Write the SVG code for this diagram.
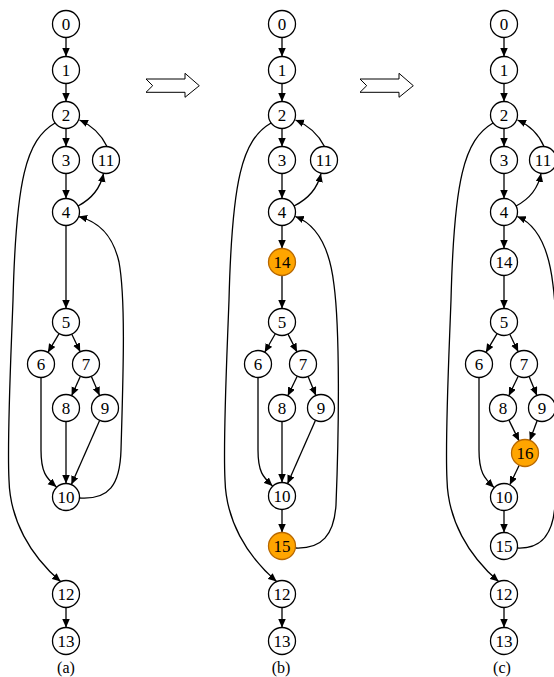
<svg xmlns="http://www.w3.org/2000/svg" width="554" height="677" viewBox="0 0 554 677">
  <style>
    .node circle { fill: #ffffff; stroke: #000000; stroke-width: 1.3; }
    .node.hl circle { fill: #ffa500; stroke: #b86800; }
    .node text { font-family: "Liberation Serif", "Times New Roman", serif; font-size: 17px; text-anchor: middle; fill: #000000; }
    .edges path { fill: none; stroke: #000000; stroke-width: 1.3; marker-end: url(#arrow); }
    .caption { font-family: "Liberation Serif", "Times New Roman", serif; font-size: 16px; text-anchor: middle; fill: #000000; }
    .step { fill: #ffffff; stroke: #000000; stroke-width: 1; stroke-linejoin: miter; }
  </style>
  <defs>
    <marker id="arrow" markerUnits="userSpaceOnUse" markerWidth="9" markerHeight="8" refX="8.5" refY="3.75" orient="auto">
      <path d="M0,0 L8.5,3.75 L0,7.5 z" fill="#000000"/>
    </marker>
  </defs>

  <rect x="0" y="0" width="554" height="677" fill="#ffffff"/>

  <!-- ===== Graph (a) ===== -->
  <g id="edges-a" class="edges">
    <path d="M66,37.5 L66,56.5"/>
    <path d="M66,83.5 L66,101.5"/>
    <path d="M66,128.5 L66,146.5"/>
    <path d="M66,173.5 L66,198.5"/>
    <path d="M78,206 Q99,195 103.5,173.5"/>
    <path d="M107,146.5 Q98,128 79.5,120"/>
    <path d="M55,123 C26,140 16,180 13,300 C10,380 7,440 9,480 C10,520 30,555 60.6,581.6"/>
    <path d="M66,225.5 L66,308.5"/>
    <path d="M59.1,333.6 L47.9,352.4"/>
    <path d="M71.8,334.2 L80.2,351.8"/>
    <path d="M80.4,376.3 L71.6,395.7"/>
    <path d="M91.4,376.4 L99.6,395.6"/>
    <path d="M41,377.5 L41,450 C41,472 46,478 56.5,487"/>
    <path d="M66,421.5 L66,483.5"/>
    <path d="M99.6,420.4 L71.4,484.6"/>
    <path d="M79.5,498 C109,500 120,485 121,450 C123,380 126,300 119,262 C113,236 100,222 78.7,216.6"/>
    <path d="M66,607.5 L66,627.5"/>
  </g>
  <g id="a-n0" class="node"><circle cx="66" cy="24" r="13.5"/><text x="66" y="29.8">0</text></g>
  <g id="a-n1" class="node"><circle cx="66" cy="70" r="13.5"/><text x="66" y="75.8">1</text></g>
  <g id="a-n2" class="node"><circle cx="66" cy="115" r="13.5"/><text x="66" y="120.8">2</text></g>
  <g id="a-n3" class="node"><circle cx="66" cy="160" r="13.5"/><text x="66" y="165.8">3</text></g>
  <g id="a-n11" class="node"><circle cx="106" cy="160" r="13.5"/><text x="106" y="165.8">11</text></g>
  <g id="a-n4" class="node"><circle cx="66" cy="212" r="13.5"/><text x="66" y="217.8">4</text></g>
  <g id="a-n5" class="node"><circle cx="66" cy="322" r="13.5"/><text x="66" y="327.8">5</text></g>
  <g id="a-n6" class="node"><circle cx="41" cy="364" r="13.5"/><text x="41" y="369.8">6</text></g>
  <g id="a-n7" class="node"><circle cx="86" cy="364" r="13.5"/><text x="86" y="369.8">7</text></g>
  <g id="a-n8" class="node"><circle cx="66" cy="408" r="13.5"/><text x="66" y="413.8">8</text></g>
  <g id="a-n9" class="node"><circle cx="105" cy="408" r="13.5"/><text x="105" y="413.8">9</text></g>
  <g id="a-n10" class="node"><circle cx="66" cy="497" r="13.5"/><text x="66" y="502.8">10</text></g>
  <g id="a-n12" class="node"><circle cx="66" cy="594" r="13.5"/><text x="66" y="599.8">12</text></g>
  <g id="a-n13" class="node"><circle cx="66" cy="641" r="13.5"/><text x="66" y="646.8">13</text></g>
  <text class="caption" x="66" y="673">(a)</text>

  <!-- step arrows -->
  <g id="step-ab"><polygon class="step" points="146,79 185,79 185,73.3 199.3,85.7 185,97.3 185,92.3 146,92.3 152.7,85.7"/></g>
  <g id="step-bc"><polygon class="step" points="360,79 399,79 399,73.3 413.3,85.7 399,97.3 399,92.3 360,92.3 366.7,85.7"/></g>

  <!-- ===== Graph (b) ===== -->
  <g id="edges-b" class="edges">
    <path d="M282,37.5 L282,56.5"/>
    <path d="M282,83.5 L282,101.5"/>
    <path d="M282,128.5 L282,146.5"/>
    <path d="M282,173.5 L282,198.5"/>
    <path d="M294,206 Q316,195 321,173.5"/>
    <path d="M324.5,146.5 Q315,128 295.5,120"/>
    <path d="M271,123 C242,140 232,180 229,300 C226,380 223,440 225,480 C226,520 246,555 276.6,581.6"/>
    <path d="M282,225.5 L282,248.5"/>
    <path d="M282,275.5 L282,308.5"/>
    <path d="M275.3,333.7 L264.7,352.3"/>
    <path d="M288,334.1 L297,351.9"/>
    <path d="M297.2,376.2 L287.8,395.8"/>
    <path d="M308.1,376.5 L315.9,395.5"/>
    <path d="M258,377.5 L258,450 C258,472 263,477 272.5,486"/>
    <path d="M282,421.5 L282,482.5"/>
    <path d="M315.5,420.3 L287.5,483.7"/>
    <path d="M282,509.5 L282,532.5"/>
    <path d="M295.5,548 C322,549 334,535 336,505 C339,430 340,330 334,285 C330,250 318,225 295.3,216.5"/>
    <path d="M282,607.5 L282,627.5"/>
  </g>
  <g id="b-n0" class="node"><circle cx="282" cy="24" r="13.5"/><text x="282" y="29.8">0</text></g>
  <g id="b-n1" class="node"><circle cx="282" cy="70" r="13.5"/><text x="282" y="75.8">1</text></g>
  <g id="b-n2" class="node"><circle cx="282" cy="115" r="13.5"/><text x="282" y="120.8">2</text></g>
  <g id="b-n3" class="node"><circle cx="282" cy="160" r="13.5"/><text x="282" y="165.8">3</text></g>
  <g id="b-n11" class="node"><circle cx="324" cy="160" r="13.5"/><text x="324" y="165.8">11</text></g>
  <g id="b-n4" class="node"><circle cx="282" cy="212" r="13.5"/><text x="282" y="217.8">4</text></g>
  <g id="b-n14" class="node hl"><circle cx="282" cy="262" r="13.5"/><text x="282" y="267.8">14</text></g>
  <g id="b-n5" class="node"><circle cx="282" cy="322" r="13.5"/><text x="282" y="327.8">5</text></g>
  <g id="b-n6" class="node"><circle cx="258" cy="364" r="13.5"/><text x="258" y="369.8">6</text></g>
  <g id="b-n7" class="node"><circle cx="303" cy="364" r="13.5"/><text x="303" y="369.8">7</text></g>
  <g id="b-n8" class="node"><circle cx="282" cy="408" r="13.5"/><text x="282" y="413.8">8</text></g>
  <g id="b-n9" class="node"><circle cx="321" cy="408" r="13.5"/><text x="321" y="413.8">9</text></g>
  <g id="b-n10" class="node"><circle cx="282" cy="496" r="13.5"/><text x="282" y="501.8">10</text></g>
  <g id="b-n15" class="node hl"><circle cx="282" cy="546" r="13.5"/><text x="282" y="551.8">15</text></g>
  <g id="b-n12" class="node"><circle cx="282" cy="594" r="13.5"/><text x="282" y="599.8">12</text></g>
  <g id="b-n13" class="node"><circle cx="282" cy="641" r="13.5"/><text x="282" y="646.8">13</text></g>
  <text class="caption" x="281" y="673">(b)</text>

  <!-- ===== Graph (c) ===== -->
  <g id="edges-c" class="edges">
    <path d="M504,37.5 L504,56.5"/>
    <path d="M504,83.5 L504,101.5"/>
    <path d="M504,128.5 L504,146.5"/>
    <path d="M504,173.5 L504,198.5"/>
    <path d="M516,206 Q537,195 541,173.5"/>
    <path d="M544,146.5 Q536,128 517.5,120"/>
    <path d="M493,123 C464,140 454,180 451,300 C448,380 445,440 447,480 C448,520 468,555 498.6,581.6"/>
    <path d="M504,225.5 L504,248.5"/>
    <path d="M504,275.5 L504,308.5"/>
    <path d="M497.1,333.6 L485.9,352.4"/>
    <path d="M509.8,334.2 L518.2,351.8"/>
    <path d="M518.2,376.2 L508.8,395.8"/>
    <path d="M529.1,376.5 L536.9,395.5"/>
    <path d="M508.9,420.1 L519.1,440.9"/>
    <path d="M537.2,420.6 L529.8,440.4"/>
    <path d="M519.2,465.2 L509.8,484.8"/>
    <path d="M479,377.5 L479,450 C479,472 484,478 494,487.5"/>
    <path d="M504,510.5 L504,532.5"/>
    <path d="M517.5,548 C541,549 553,535 555,505 C558,430 559,330 553,285 C549,250 538,225 517.3,216.5"/>
    <path d="M504,607.5 L504,627.5"/>
  </g>
  <g id="c-n0" class="node"><circle cx="504" cy="24" r="13.5"/><text x="504" y="29.8">0</text></g>
  <g id="c-n1" class="node"><circle cx="504" cy="70" r="13.5"/><text x="504" y="75.8">1</text></g>
  <g id="c-n2" class="node"><circle cx="504" cy="115" r="13.5"/><text x="504" y="120.8">2</text></g>
  <g id="c-n3" class="node"><circle cx="504" cy="160" r="13.5"/><text x="504" y="165.8">3</text></g>
  <g id="c-n11" class="node"><circle cx="543" cy="160" r="13.5"/><text x="543" y="165.8">11</text></g>
  <g id="c-n4" class="node"><circle cx="504" cy="212" r="13.5"/><text x="504" y="217.8">4</text></g>
  <g id="c-n14" class="node"><circle cx="504" cy="262" r="13.5"/><text x="504" y="267.8">14</text></g>
  <g id="c-n5" class="node"><circle cx="504" cy="322" r="13.5"/><text x="504" y="327.8">5</text></g>
  <g id="c-n6" class="node"><circle cx="479" cy="364" r="13.5"/><text x="479" y="369.8">6</text></g>
  <g id="c-n7" class="node"><circle cx="524" cy="364" r="13.5"/><text x="524" y="369.8">7</text></g>
  <g id="c-n8" class="node"><circle cx="503" cy="408" r="13.5"/><text x="503" y="413.8">8</text></g>
  <g id="c-n9" class="node"><circle cx="542" cy="408" r="13.5"/><text x="542" y="413.8">9</text></g>
  <g id="c-n16" class="node hl"><circle cx="525" cy="453" r="13.5"/><text x="525" y="458.8">16</text></g>
  <g id="c-n10" class="node"><circle cx="504" cy="497" r="13.5"/><text x="504" y="502.8">10</text></g>
  <g id="c-n15" class="node"><circle cx="504" cy="546" r="13.5"/><text x="504" y="551.8">15</text></g>
  <g id="c-n12" class="node"><circle cx="504" cy="594" r="13.5"/><text x="504" y="599.8">12</text></g>
  <g id="c-n13" class="node"><circle cx="504" cy="641" r="13.5"/><text x="504" y="646.8">13</text></g>
  <text class="caption" x="502" y="673">(c)</text>
</svg>
